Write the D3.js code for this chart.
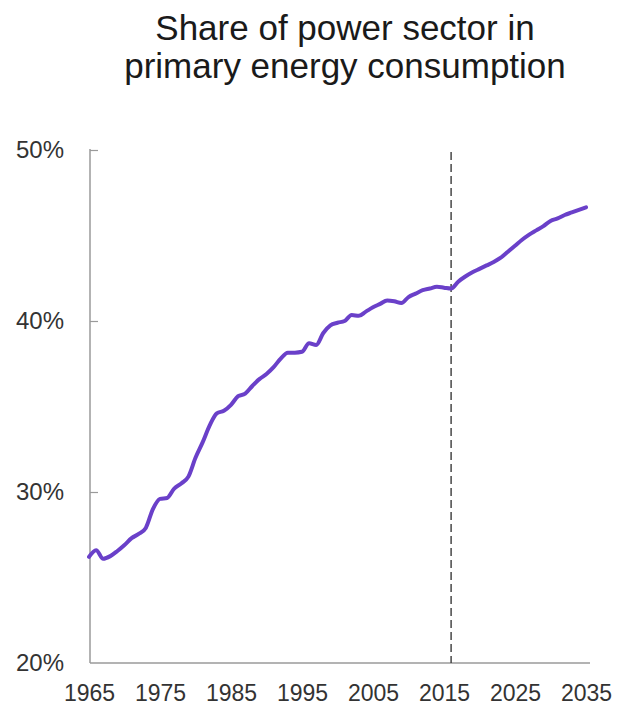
<!DOCTYPE html>
<html>
<head>
<meta charset="utf-8">
<script src="https://cdn.jsdelivr.net/npm/d3@7"></script>
<style>
  html, body { margin: 0; padding: 0; background: #fff; }
  svg { display: block; }
  text { font-family: "Liberation Sans", Arial, sans-serif; }
</style>
</head>
<body>
<div id="chart"></div>
<script>
// ---- Data ----
const titleLines = ["Share of power sector in", "primary energy consumption"];
const years = d3.range(1965, 2036);
const shares = [
  26.2, 26.6, 26.1, 26.25, 26.55, 26.9, 27.3, 27.55, 27.9, 29.0,   // 1965-1974
  29.6, 29.65, 30.2, 30.5, 30.9, 32.0, 32.9, 33.9, 34.6, 34.75,    // 1975-1984
  35.1, 35.6, 35.75, 36.2, 36.6, 36.9, 37.3, 37.8, 38.15, 38.15,   // 1985-1994
  38.2, 38.7, 38.6, 39.3, 39.75, 39.9, 40.0, 40.35, 40.3, 40.55,   // 1995-2004
  40.8, 41.0, 41.2, 41.15, 41.05, 41.4, 41.6, 41.8, 41.9, 42.0,    // 2005-2014
  41.95, 41.9, 42.3, 42.6, 42.85, 43.05, 43.25, 43.45, 43.7, 44.05, // 2015-2024
  44.4, 44.75, 45.05, 45.3, 45.55, 45.85, 46.0, 46.2, 46.35, 46.5, // 2025-2034
  46.65                                                            // 2035
];
const xTickYears = [1965, 1975, 1985, 1995, 2005, 2015, 2025, 2035];
const yTickValues = [20, 30, 40, 50];
const projectionStartYear = 2016;

// ---- Layout ----
const W = 617, H = 707;
const svg = d3.select("#chart").append("svg").attr("width", W).attr("height", H);

const x = d3.scaleLinear().domain([1965, 2035]).range([89, 586]);
const y = d3.scaleLinear().domain([20, 50]).range([663, 150]);

// Title
svg.append("text")
  .attr("x", 345).attr("y", 40)
  .attr("text-anchor", "middle")
  .attr("font-size", 35).attr("fill", "#1a1a1a")
  .selectAll("tspan").data(titleLines).join("tspan")
  .attr("x", 345).attr("dy", (d, i) => i === 0 ? 0 : 38)
  .text(d => d);

// Y axis
const yAxis = d3.axisRight(y).tickValues(yTickValues.filter(v => v > 20)).tickSize(8).tickFormat("");
const yg = svg.append("g").attr("transform", "translate(90,0)").call(yAxis);
yg.select(".domain").remove();
yg.selectAll(".tick line").attr("stroke", "#9a9a9a").attr("stroke-width", 1.2);
svg.append("line")
  .attr("x1", 90).attr("x2", 90).attr("y1", y(50) - 1).attr("y2", y(20))
  .attr("stroke", "#9a9a9a").attr("stroke-width", 1.5);

// Y labels
svg.append("g").selectAll("text").data(yTickValues).join("text")
  .attr("x", 64).attr("y", d => y(d) + 8)
  .attr("text-anchor", "end")
  .attr("font-size", 24).attr("fill", "#333")
  .text(d => d + "%");

// X axis line
svg.append("line")
  .attr("x1", 90).attr("x2", 590).attr("y1", y(20)).attr("y2", y(20))
  .attr("stroke", "#9a9a9a").attr("stroke-width", 1.5);

// X labels
const xAxis = d3.axisBottom(x).tickValues(xTickYears).tickSize(0).tickPadding(0).tickFormat(d3.format("d"));
const xg = svg.append("g").attr("transform", "translate(0,683)").call(xAxis);
xg.select(".domain").remove();
xg.selectAll("text")
  .attr("font-size", 23).attr("fill", "#333")
  .attr("font-family", "'Liberation Sans', Arial, sans-serif")
  .attr("dy", "0.78em");

// Dashed projection line
svg.append("line")
  .attr("x1", x(projectionStartYear)).attr("x2", x(projectionStartYear))
  .attr("y1", 152).attr("y2", y(20))
  .attr("stroke", "#3a3a3a").attr("stroke-width", 1.4)
  .attr("stroke-dasharray", "8,4");

// Data line
const data = years.map((yr, i) => ({ year: yr, value: shares[i] }));
const line = d3.line().x(d => x(d.year)).y(d => y(d.value)).curve(d3.curveMonotoneX);
svg.append("path")
  .datum(data)
  .attr("d", line)
  .attr("fill", "none")
  .attr("stroke", "#6a40c9")
  .attr("stroke-width", 4)
  .attr("stroke-linejoin", "round")
  .attr("stroke-linecap", "round");
</script>
</body>
</html>
